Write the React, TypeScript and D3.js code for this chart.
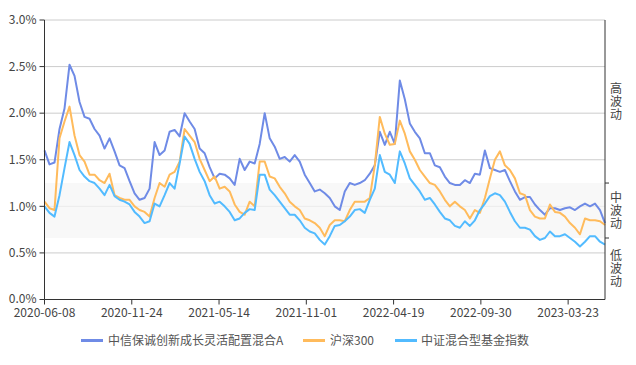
import React from 'react';
import * as d3 from 'd3';

const width = 636;
const height = 365;
const margin = { top: 20, right: 31, bottom: 65.5, left: 44.5 };

// x axis: trading-day index, labels every 116 days
const TOTAL_DAYS = 746;
const tickEvery = 116;
const xTickLabels = ['2020-06-08', '2020-11-24', '2021-05-14', '2021-11-01', '2022-04-19', '2022-09-30', '2023-03-23'];

const yTicks = [0, 0.5, 1.0, 1.5, 2.0, 2.5, 3.0];

// volatility zones (right axis)
const zoneEdges = [0, 0.66, 1.25, 3.0];
const zoneLabels = ['低波动', '中波动', '高波动'];

const seriesNames = ['中信保诚创新成长灵活配置混合A', '沪深300', '中证混合型基金指数'];
const seriesColors = ['#6f8be6', '#ffbb5c', '#52bbff'];

const fundA = [
  1.60, 1.45, 1.47, 1.83, 2.05, 2.52, 2.40, 2.12, 1.96, 1.94, 1.83, 1.76, 1.62, 1.73, 1.59, 1.44, 1.41, 1.27, 1.14, 1.07, 1.09, 1.19, 1.69,
  1.55, 1.60, 1.80, 1.82, 1.75, 2.00, 1.91, 1.83, 1.62, 1.57, 1.42, 1.30, 1.35, 1.34, 1.30, 1.23, 1.51, 1.39, 1.48, 1.46, 1.67, 2.00,
  1.73, 1.64, 1.51, 1.53, 1.48, 1.55, 1.48, 1.34, 1.25, 1.16, 1.18, 1.14, 1.09, 1.00, 0.96, 1.16, 1.25, 1.23, 1.25, 1.28, 1.35, 1.44, 1.80,
  1.66, 1.80, 1.67, 2.35, 2.15, 1.89, 1.80, 1.73, 1.57, 1.57, 1.44, 1.42, 1.32, 1.25, 1.23, 1.23, 1.28, 1.25, 1.35, 1.34, 1.60, 1.41,
  1.39, 1.37, 1.39, 1.27, 1.16, 1.07, 1.10, 1.10, 1.02, 0.96, 0.91, 0.98, 0.98, 0.96, 0.98, 0.99, 0.96, 1.00, 1.03, 1.00, 1.03, 0.96, 0.82,
];

const hs300 = [
  1.05, 0.98, 0.96, 1.73, 1.91, 2.07, 1.76, 1.55, 1.48, 1.34, 1.34, 1.28, 1.25, 1.35, 1.12, 1.09, 1.07, 1.07, 1.00, 0.96, 0.94, 0.89, 1.09,
  1.25, 1.21, 1.34, 1.37, 1.48, 1.83, 1.76, 1.69, 1.51, 1.39, 1.27, 1.32, 1.19, 1.21, 1.16, 1.02, 0.94, 0.91, 1.05, 1.00, 1.48, 1.48,
  1.32, 1.30, 1.21, 1.14, 1.05, 1.00, 0.96, 0.87, 0.85, 0.82, 0.77, 0.68, 0.80, 0.85, 0.85, 0.84, 0.96, 1.05, 1.05, 1.05, 1.09, 1.44, 1.96,
  1.78, 1.66, 1.67, 1.92, 1.78, 1.59, 1.50, 1.39, 1.32, 1.25, 1.23, 1.16, 1.07, 1.00, 1.05, 1.00, 0.96, 0.87, 0.96, 0.93, 1.09, 1.30,
  1.50, 1.59, 1.44, 1.39, 1.30, 1.14, 1.12, 0.96, 0.89, 0.87, 0.87, 1.02, 0.94, 0.93, 0.89, 0.82, 0.77, 0.70, 0.87, 0.85, 0.85, 0.84, 0.80,
];

const mixIndex = [
  1.00, 0.93, 0.89, 1.12, 1.41, 1.69, 1.55, 1.39, 1.32, 1.27, 1.25, 1.19, 1.12, 1.23, 1.11, 1.07, 1.05, 1.02, 0.94, 0.89, 0.82, 0.84, 1.03,
  1.00, 1.12, 1.25, 1.19, 1.46, 1.75, 1.67, 1.51, 1.37, 1.27, 1.12, 1.03, 1.05, 1.00, 0.94, 0.85, 0.87, 0.93, 0.97, 0.96, 1.34, 1.34,
  1.18, 1.12, 1.05, 0.98, 0.91, 0.91, 0.85, 0.77, 0.73, 0.71, 0.64, 0.59, 0.68, 0.79, 0.80, 0.84, 0.89, 0.96, 0.97, 0.93, 1.07, 1.19, 1.55,
  1.37, 1.34, 1.25, 1.59, 1.46, 1.30, 1.23, 1.16, 1.07, 1.09, 1.02, 0.94, 0.87, 0.85, 0.79, 0.77, 0.84, 0.79, 0.85, 0.96, 1.03, 1.11,
  1.14, 1.12, 1.05, 0.94, 0.84, 0.77, 0.77, 0.75, 0.68, 0.64, 0.66, 0.73, 0.68, 0.68, 0.70, 0.66, 0.62, 0.57, 0.62, 0.68, 0.68, 0.62, 0.59,
];

const allSeries = [fundA, hs300, mixIndex];

const font = '"Noto Sans CJK SC", "Noto Sans", sans-serif';

export default function App() {
  const x0 = margin.left;
  const x1 = width - margin.right;
  const y0 = height - margin.bottom;
  const y1 = margin.top;

  const xScale = d3.scaleLinear().domain([0, TOTAL_DAYS - 1]).range([x0, x1]);
  const yScale = d3.scaleLinear().domain([0, 3]).range([y0, y1]);

  const makeLine = (values: number[]) => {
    const step = (TOTAL_DAYS - 1) / (values.length - 1);
    return d3.line<number>()
      .x((_, i) => xScale(i * step))
      .y(d => yScale(d))(values);
  };

  const legendItems = [
    { swatch: 81, text: 108 },
    { swatch: 303, text: 330 },
    { swatch: 395, text: 421 },
  ];

  return (
    <svg width={width} height={height} style={{ position: 'absolute', left: 0, top: 0, fontFamily: font }}>
      <rect x={0} y={0} width={width} height={height} fill="#fff" />

      {/* grid */}
      {yTicks.filter(t => t > 0).map(t => (
        <line key={t} x1={x0} x2={x1} y1={yScale(t)} y2={yScale(t)} stroke="#cccccc" strokeWidth={1} />
      ))}

      {/* middle zone band */}
      <rect
        x={x0}
        y={yScale(zoneEdges[2])}
        width={x1 - x0}
        height={yScale(zoneEdges[1]) - yScale(zoneEdges[2])}
        fill="#f5f5f5"
        fillOpacity={0.75}
      />

      {/* lines */}
      {allSeries.map((s, i) => (
        <path key={i} d={makeLine(s) || ''} fill="none" stroke={seriesColors[i]} strokeWidth={2} strokeLinejoin="round" />
      ))}

      {/* left axis */}
      <line x1={x0} x2={x0} y1={y1} y2={y0} stroke="#333" strokeWidth={1} />
      {yTicks.map(t => (
        <g key={t}>
          <line x1={x0 - 5} x2={x0} y1={yScale(t)} y2={yScale(t)} stroke="#333" />
          <text x={x0 - 8} y={yScale(t) - (t === 0 ? 1 : 0)} dy="0.35em" textAnchor="end" fontSize={12} fill="#444">
            {d3.format('.1f')(t)}%
          </text>
        </g>
      ))}

      {/* bottom axis */}
      <line x1={x0} x2={x1} y1={y0} y2={y0} stroke="#333" strokeWidth={1} />
      {xTickLabels.map((lab, k) => {
        const x = xScale(k * tickEvery);
        return (
          <g key={lab}>
            <line x1={x} x2={x} y1={y0} y2={y0 + 5} stroke="#333" />
            <text x={x} y={y0 + 17} textAnchor="middle" fontSize={12} fill="#444">{lab}</text>
          </g>
        );
      })}

      {/* right axis */}
      <line x1={x1} x2={x1} y1={y1} y2={y0} stroke="#333" strokeWidth={1} />
      {zoneEdges.slice(1, 3).map(e => (
        <line key={e} x1={x1} x2={x1 + 4} y1={yScale(e)} y2={yScale(e)} stroke="#333" />
      ))}
      {/* vertical zone labels, one text each */}
      {zoneLabels.map((lab, k) => {
        const cy = yScale((zoneEdges[k] + zoneEdges[k + 1]) / 2);
        return (
          <text
            key={lab}
            x={x1 + 11}
            y={cy}
            textAnchor="middle"
            fontSize={12}
            fill="#444"
            style={{ writingMode: 'vertical-rl', textOrientation: 'upright', letterSpacing: 1 }}
          >
            {lab}
          </text>
        );
      })}

      {/* legend */}
      {seriesNames.map((name, i) => (
        <g key={name}>
          <line x1={legendItems[i].swatch} x2={legendItems[i].swatch + 22} y1={340.5} y2={340.5} stroke={seriesColors[i]} strokeWidth={3} />
          <text x={legendItems[i].text} y={340.5} dy="0.35em" fontSize={12} fill="#555">{name}</text>
        </g>
      ))}
    </svg>
  );
}
